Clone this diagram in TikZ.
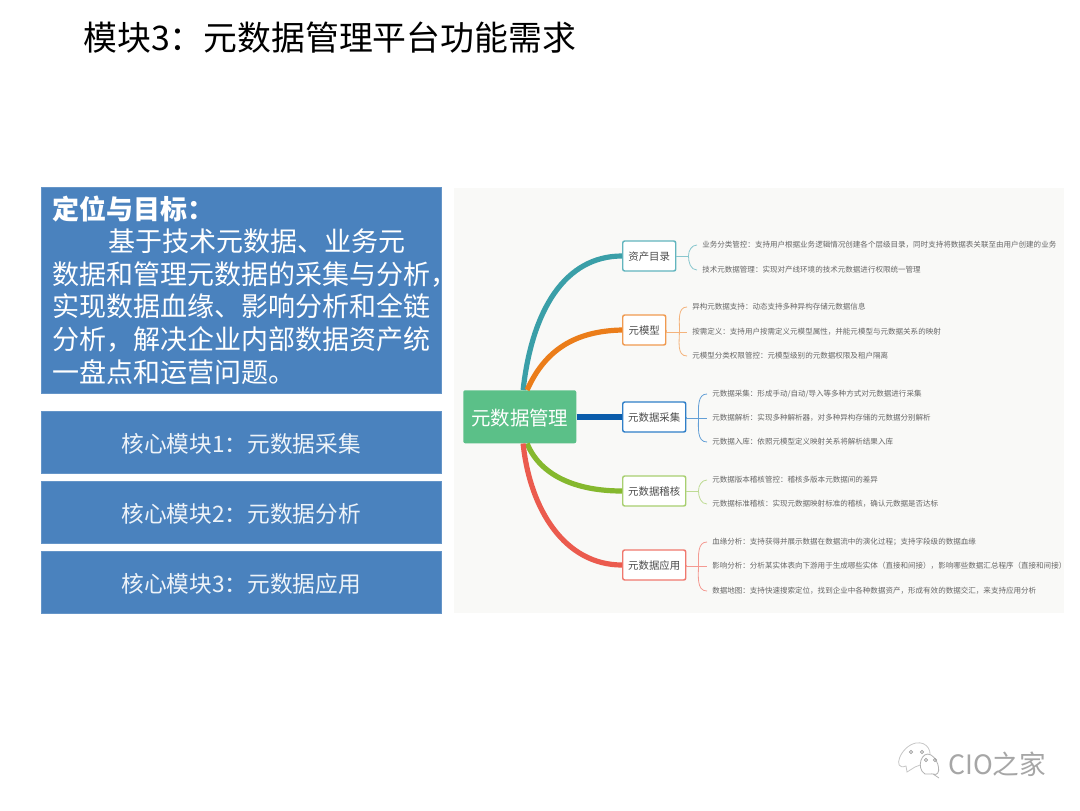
\documentclass[tikz,border=0pt]{standalone}
\usepackage{fontspec}
\setmainfont{Noto Sans CJK SC}
\usepackage{tikz}
\usetikzlibrary{calc, %for relative coord calculations
                positioning}

\definecolor{boxblue}{HTML}{4A82BE}
\definecolor{panelgray}{HTML}{F9F9F7}
\definecolor{rootgreen}{HTML}{5BC088}
\definecolor{leafgray}{HTML}{666666}
\definecolor{marktext}{HTML}{A6A6A6}
\definecolor{tealA}{HTML}{3A9FA8}   \definecolor{tealB}{HTML}{62B5BE}
\definecolor{orangeA}{HTML}{EB7D1A} \definecolor{orangeB}{HTML}{F09A50}
\definecolor{blueA}{HTML}{0A5CAB}   \definecolor{blueB}{HTML}{2F7FC8}
\definecolor{greenA}{HTML}{85B82E}  \definecolor{greenB}{HTML}{A8CF70}
\definecolor{redA}{HTML}{EB5B4E}    \definecolor{redB}{HTML}{F0786E}

\begin{document}
\begin{tikzpicture}[x=0.75pt,y=-0.75pt,
                    Core/.style={draw=boxblue!85!white, fill=boxblue, text=white!90!boxblue, minimum height=46.5pt, minimum width=300pt, text height=16pt, text depth=1pt, font=\fontsize{17}{20}\selectfont},
                    Branch/.style={draw=#1, line width=1.1pt, rounded corners=1.5pt, fill=white, text=black!70, inner sep=0pt, minimum height=22.5pt, text height=7.4pt, text depth=0.4pt, font=\fontsize{7.8}{9}\selectfont},
                    Leaf/.style={anchor=west, inner xsep=3.75pt, inner ysep=0pt, text=leafgray, font=\fontsize{5.65}{7}\selectfont},
                    limb/.style={line width=3.9pt},
                    twig/.style={line width=0.6pt, #1!75!white}
                    ]

    \useasboundingbox (0,0) rectangle (1080,810);
    \fill[white] (0,0) rectangle (1080,810);

    % TITLE %
    \node[anchor=west, inner sep=0pt, font=\fontsize{25.4}{30}\selectfont] (Title) at (83,38) {模块3：元数据管理平台功能需求};

    % LEFT COLUMN %
    \node[draw=boxblue!85!white, fill=boxblue, anchor=north west, minimum width=300pt, minimum height=154.5pt] (Goal) at (41,187) {};
    \node[anchor=north west, inner sep=0pt, text=white, align=left, font=\fontsize{20.25}{24.4}\selectfont] (GoalText) at (52,195.5) {\textbf{定位与目标：}\\\hspace*{42pt}基于技术元数据、业务元\\数据和管理元数据的采集与分析，\\实现数据血缘、影响分析和全链\\分析，解决企业内部数据资产统\\一盘点和运营问题。};
    \node[Core, anchor=north west] (Core1) at (41,411) {核心模块1：元数据采集};
    \node[Core, anchor=north west] (Core2) at (41,481) {核心模块2：元数据分析};
    \node[Core, anchor=north west] (Core3) at (41,551) {核心模块3：元数据应用};

    % MIND MAP %
    \fill[panelgray] (454,188) rectangle (1064,613);
    \node[fill=rootgreen, rounded corners=1.5pt, text=white, anchor=north west, minimum width=84.75pt, minimum height=39.75pt, inner sep=0pt, text height=13pt, text depth=0.5pt, font=\fontsize{14.6}{17}\selectfont] (Root) at (463,390) {元数据管理};

    \node[Branch=tealB, anchor=west, minimum width=39.75pt] (Br1) at (622,256) {资产目录};
    \node[Branch=orangeB, anchor=west, minimum width=32.25pt] (Br2) at (622,330) {元模型};
    \node[Branch=blueB, anchor=west, minimum width=47.25pt] (Br3) at (622,417) {元数据采集};
    \node[Branch=greenB, anchor=west, minimum width=47.25pt] (Br4) at (622,491) {元数据稽核};
    \node[Branch=redB, anchor=west, minimum width=47.25pt] (Br5) at (622,565) {元数据应用};

    \draw[limb, tealA] ([xshift=2.5pt]Root.north) .. controls (532,310) and (565,256) .. (Br1.west);
    \draw[limb, orangeA] ([xshift=5.5pt]Root.north) .. controls (545,350) and (575,331) .. (Br2.west);
    \draw[limb, blueA] (Root.east |- Br3) -- (Br3.west);
    \draw[limb, greenA] ([xshift=5.5pt]Root.south) .. controls (540,475) and (575,491) .. (Br4.west);
    \draw[limb, redA] ([xshift=2.5pt]Root.south) .. controls (530,510) and (565,565) .. (Br5.west);

    % LEAVES %
    \node[Leaf] (L11) at (697,245) {业务分类管控：支持用户根据业务逻辑情况创建各个层级目录，同时支持将数据表关联至由用户创建的业务};
    \node[Leaf] (L12) at (697,270) {技术元数据管理：实现对产线环境的技术元数据进行权限统一管理};
    \node[Leaf] (L21) at (687,307) {异构元数据支持：动态支持多种异构存储元数据信息};
    \node[Leaf] (L22) at (687,332) {按需定义：支持用户按需定义元模型属性，并能元模型与元数据关系的映射};
    \node[Leaf] (L23) at (687,356) {元模型分类权限管控：元模型级别的元数据权限及租户隔离};
    \node[Leaf] (L31) at (707,394) {元数据采集：形成手动/自动/导入等多种方式对元数据进行采集};
    \node[Leaf] (L32) at (707,418) {元数据解析：实现多种解析器，对多种异构存储的元数据分别解析};
    \node[Leaf] (L33) at (707,442) {元数据入库：依照元模型定义映射关系将解析结果入库};
    \node[Leaf] (L41) at (707,480) {元数据版本稽核管控：稽核多版本元数据间的差异};
    \node[Leaf] (L42) at (707,504) {元数据标准稽核：实现元数据映射标准的稽核，确认元数据是否达标};
    \node[Leaf] (L51) at (707,542) {血缘分析：支持获得并展示数据在数据流中的演化过程；支持字段级的数据血缘};
    \node[Leaf] (L52) at (707,566) {影响分析：分析某实体表向下游用于生成哪些实体（直接和间接），影响哪些数据汇总程序（直接和间接）};
    \node[Leaf] (L53) at (707,591) {数据地图：支持快速搜索定位，找到企业中各种数据资产，形成有效的数据交汇，来支持应用分析};

    % BRACES %
    \foreach \b/\gap in {1/12, 2/13, 3/12, 4/12, 5/12}
    \coordinate (J\b) at ($(Br\b.east) + (\gap,0)$);

    \draw[twig=tealB] (Br1.east) -- (J1);
    \draw[twig=greenB] (Br4.east) -- (J4);
    \foreach \x/\y/\c/\ang in {1/1/tealB/90, 1/2/tealB/-90, 2/1/orangeB/90, 2/3/orangeB/-90, 3/1/blueB/90, 3/3/blueB/-90, 4/1/greenB/90, 4/2/greenB/-90, 5/1/redB/90, 5/3/redB/-90}
    \draw[twig=\c] (J\x) to[out=\ang, in=180] (L\x\y.west);
    \foreach \x/\c in {2/orangeB, 3/blueB, 5/redB}
    \draw[twig=\c] (Br\x.east) |- (L\x2.west);

    % WATERMARK %
    \draw[black!22, fill=white, line width=0.6pt] (906,766) to[out=200,in=190,looseness=1.6] (916,743) to[out=10,in=60,looseness=1.3] (928,762) -- (915,767) -- (907,772) -- cycle;
    \draw[black!30, fill=white, line width=0.6pt] (933,774) to[out=-20,in=-30,looseness=1.3] (931,755) to[out=150,in=150,looseness=1.4] (925,774) -- (933,774) -- (939,778) -- cycle;
    \foreach \cx/\cy in {911/752, 922/752, 926/760, 935/760}
    \draw[black!40, line width=0.5pt] (\cx,\cy) circle (1.2pt);
    \node[anchor=west, inner sep=0pt, text=marktext, font=\fontsize{20}{24}\selectfont] (Mark) at (948,764) {CIO之家};
\end{tikzpicture}
\end{document}
